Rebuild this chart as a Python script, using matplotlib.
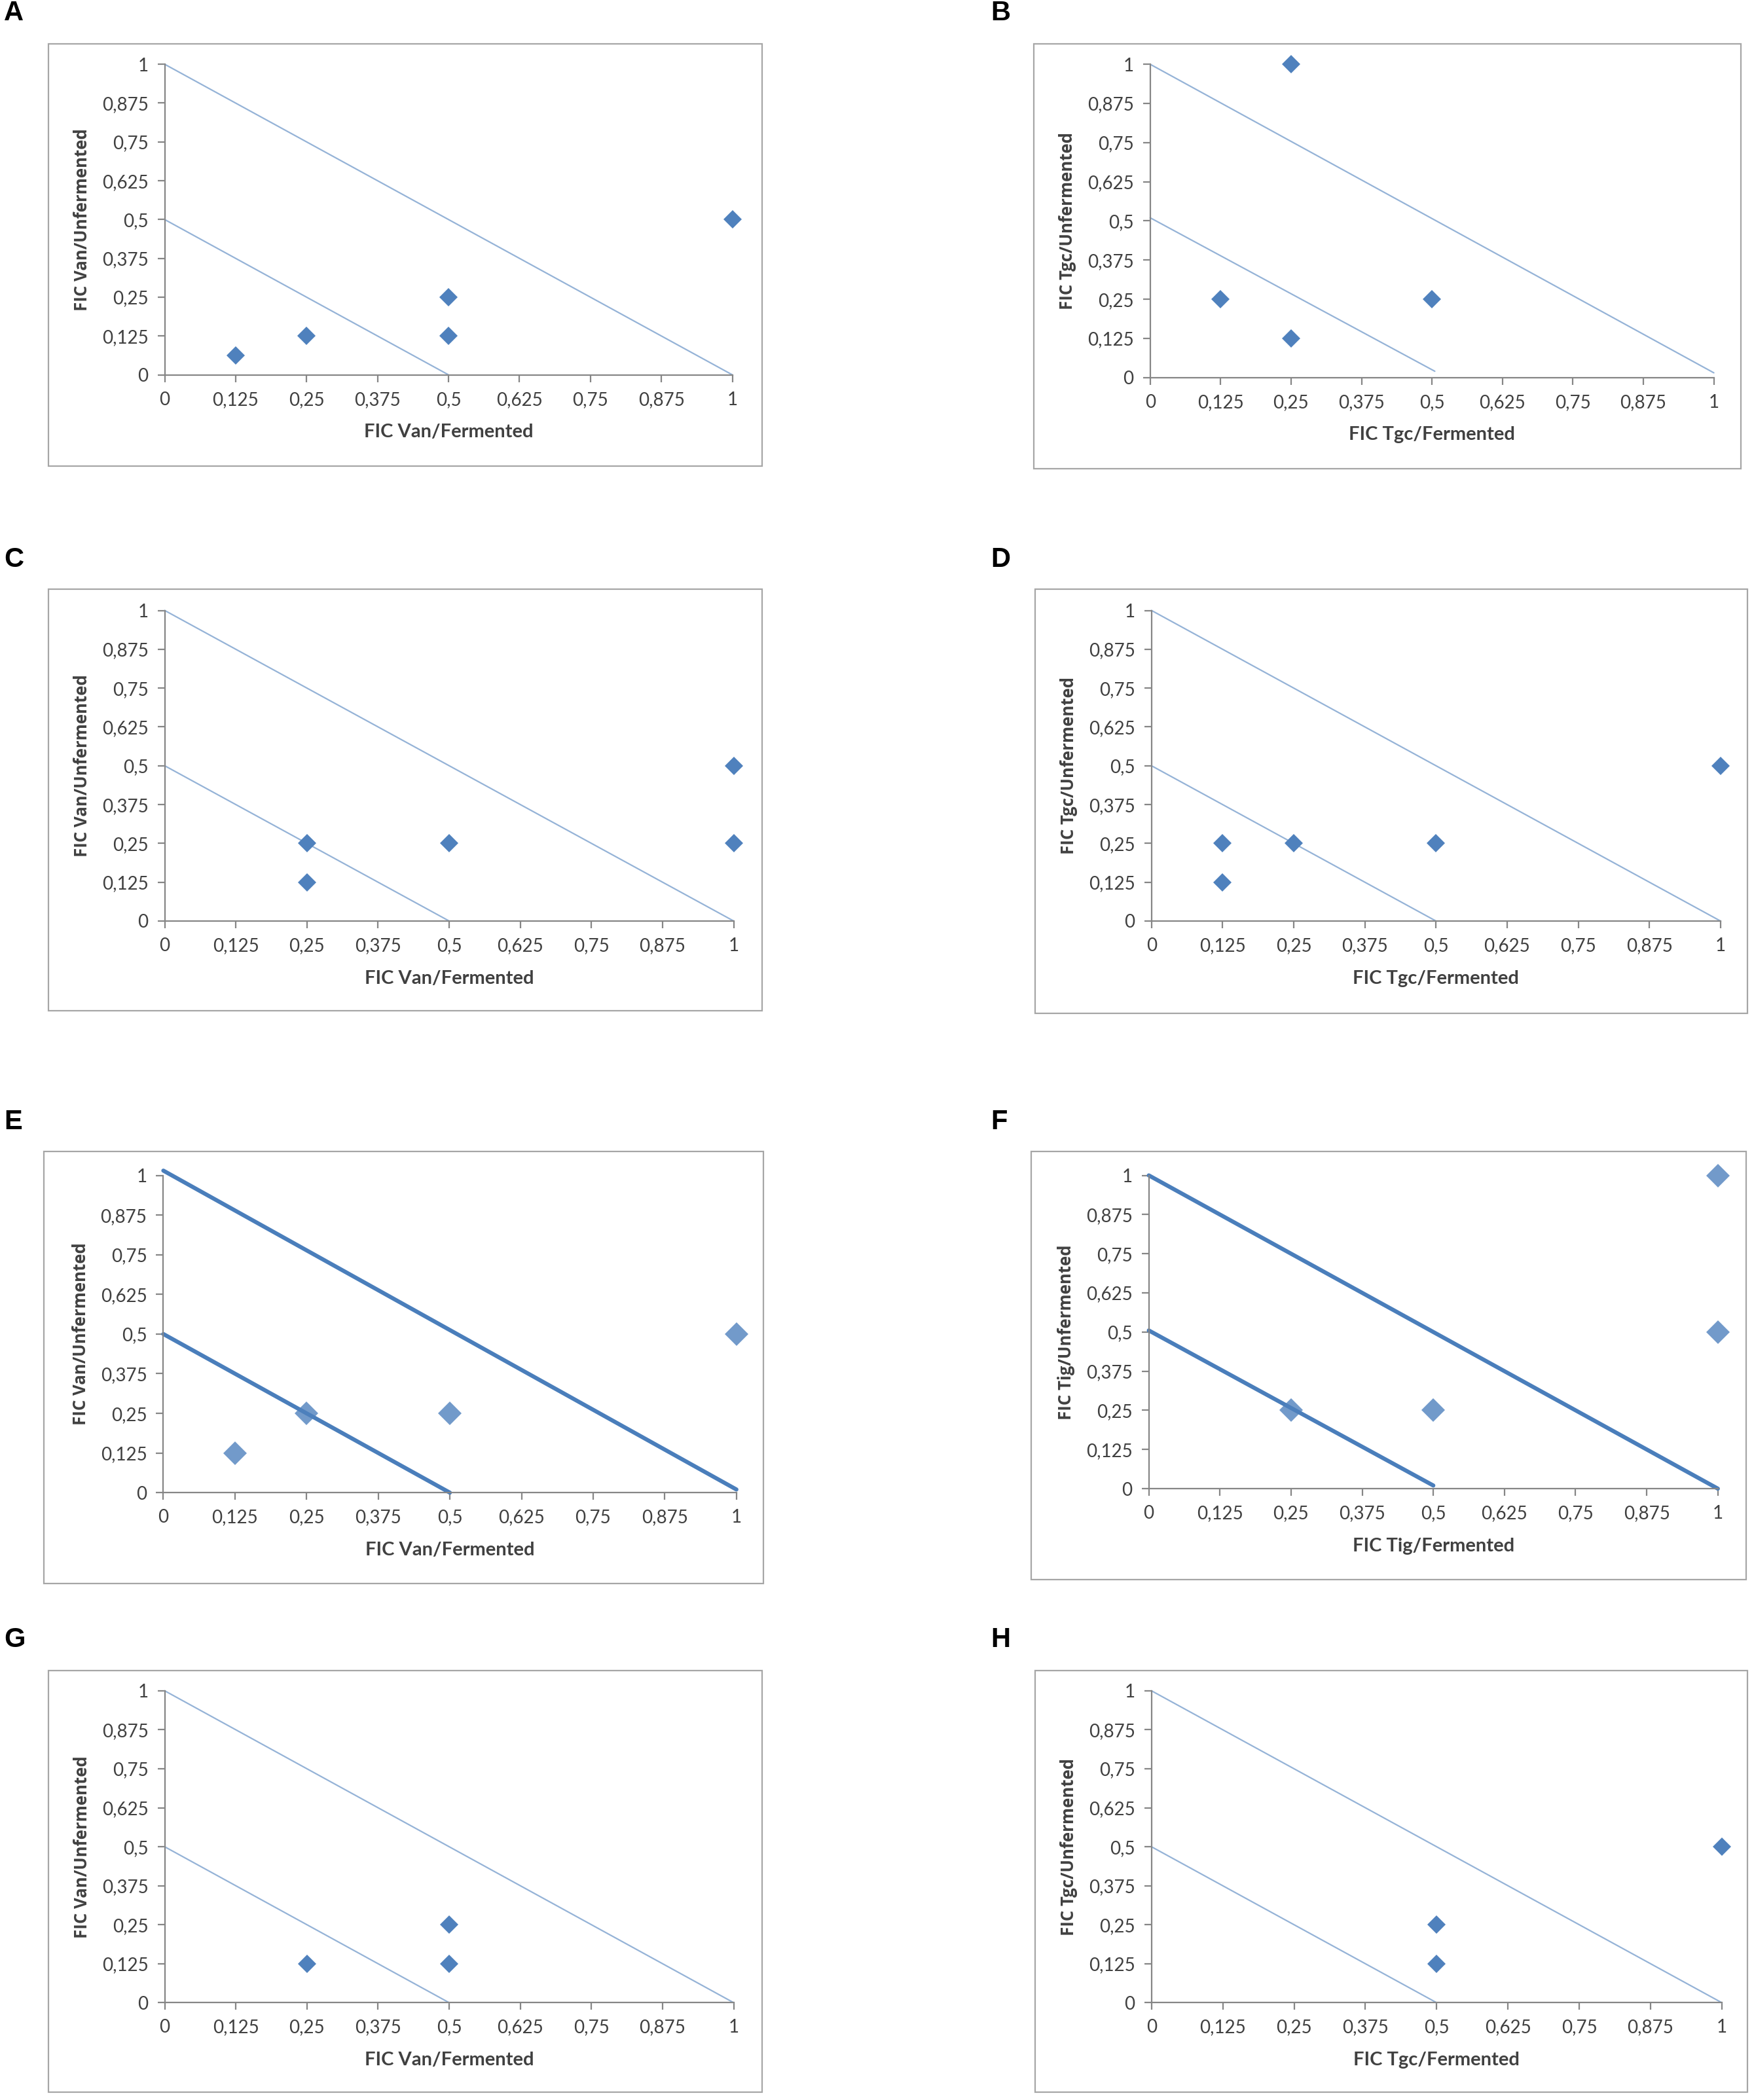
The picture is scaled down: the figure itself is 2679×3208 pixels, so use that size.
import matplotlib
matplotlib.use("Agg")
import matplotlib.pyplot as plt
from matplotlib.patches import Rectangle

# figure size in pixels, layout was measured on a 1310 px wide preview
W, H = 2679, 3208
S = W / 1310.0

panels = ["A", "B", "C", "D", "E", "F", "G", "H"]

x_titles = ["FIC Van/Fermented", "FIC Tgc/Fermented", "FIC Van/Fermented", "FIC Tgc/Fermented",
            "FIC Van/Fermented", "FIC Tig/Fermented", "FIC Van/Fermented", "FIC Tgc/Fermented"]
y_titles = ["FIC Van/Unfermented", "FIC Tgc/Unfermented", "FIC Van/Unfermented", "FIC Tgc/Unfermented",
            "FIC Van/Unfermented", "FIC Tig/Unfermented", "FIC Van/Unfermented", "FIC Tgc/Unfermented"]

# combination points (x = fermented FIC, y = unfermented FIC)
pts_x = {
    "A": [0.125, 0.25, 0.5, 0.5, 1.0],
    "B": [0.25, 0.125, 0.25, 0.5],
    "C": [0.25, 0.25, 0.5, 1.0, 1.0],
    "D": [0.125, 0.125, 0.25, 0.5, 1.0],
    "E": [0.125, 0.25, 0.5, 1.0],
    "F": [0.25, 0.5, 1.0, 1.0],
    "G": [0.25, 0.5, 0.5],
    "H": [0.5, 0.5, 1.0],
}
pts_y = {
    "A": [0.0625, 0.125, 0.25, 0.125, 0.5],
    "B": [1.0, 0.25, 0.125, 0.25],
    "C": [0.25, 0.125, 0.25, 0.5, 0.25],
    "D": [0.25, 0.125, 0.25, 0.25, 0.5],
    "E": [0.125, 0.25, 0.25, 0.5],
    "F": [0.25, 0.25, 1.0, 0.5],
    "G": [0.125, 0.25, 0.125],
    "H": [0.25, 0.125, 0.5],
}

# isobologram lines: additivity (FIC index 1) and synergy (FIC index 0.5)
outer_x = {p: [0, 1] for p in panels}
outer_y = {p: [1, 0] for p in panels}
outer_y["B"] = [1, 0.015]
outer_y["E"] = [1.015, 0.01]
inner_x = {p: [0, 0.5] for p in panels}
inner_x["B"] = [0, 0.505]
inner_y = {p: [0.5, 0] for p in panels}
inner_y["B"] = [0.51, 0.02]
inner_y["F"] = [0.505, 0.01]

ticks = [0, 0.125, 0.25, 0.375, 0.5, 0.625, 0.75, 0.875, 1]
tick_labels = ["0", "0,125", "0,25", "0,375", "0,5", "0,625", "0,75", "0,875", "1"]

# layout in preview pixels: frame (l, t, r, b), axes (x0, x1, ytop, ybottom), letter (x, y)
frames = {
    "A": (36, 33, 569, 348), "B": (772, 33, 1300, 350),
    "C": (36, 440, 569, 755), "D": (773, 440, 1305, 757),
    "E": (33, 860, 570, 1183), "F": (770, 860, 1304, 1180),
    "G": (36, 1248, 569, 1563), "H": (773, 1248, 1305, 1563),
}
axes_box = {
    "A": (123, 547, 48, 280), "B": (859, 1280, 48, 282),
    "C": (123, 548, 456, 688), "D": (860, 1285, 456, 688),
    "E": (122, 550, 878, 1115), "F": (858, 1283, 878, 1112),
    "G": (123, 548, 1263, 1496), "H": (860, 1286, 1263, 1496),
}
letters = {
    "A": (3, 10), "B": (740, 10), "C": (3, 418), "D": (740, 418),
    "E": (3, 838), "F": (740, 838), "G": (3, 1225), "H": (740, 1225),
}

narrow = ["Lato", "DejaVu Sans"]
bold_fam = ["Open Sans", "DejaVu Sans"]

fig = plt.figure(figsize=(W / 100, H / 100), dpi=100)
fig.patch.set_facecolor("white")

for p in panels:
    l, t, r, b = frames[p]
    fig.patches.append(Rectangle((l * S / W, 1 - b * S / H), (r - l) * S / W, (b - t) * S / H,
                                 transform=fig.transFigure, fill=False,
                                 edgecolor="#a6a6a6", linewidth=1.6))
    lx, ly = letters[p]
    fig.text(lx * S / W, 1 - ly * S / H, p, fontsize=30, fontweight="bold",
             family="Liberation Sans", ha="left", va="center")

    x0, x1, yt, yb = axes_box[p]
    ax = fig.add_axes([x0 * S / W, 1 - yb * S / H, (x1 - x0) * S / W, (yb - yt) * S / H])
    heavy = p in ("E", "F")
    lcol = "#4a7ebb" if heavy else "#95b3d7"
    lw = 4.5 if heavy else 1.6
    ax.plot(outer_x[p], outer_y[p], color=lcol, lw=lw, solid_capstyle="round", clip_on=False)
    ax.plot(inner_x[p], inner_y[p], color=lcol, lw=lw, solid_capstyle="round", clip_on=False)
    ax.plot(pts_x[p], pts_y[p], linestyle="none", marker="D", color="#4f81bd",
            markersize=18 if heavy else 14, markeredgewidth=0, clip_on=False, zorder=3,
            alpha=0.8 if heavy else 1)

    ax.set_xlim(0, 1)
    ax.set_ylim(0, 1)
    ax.set_xticks(ticks)
    ax.set_yticks(ticks)
    ax.set_xticklabels(tick_labels, family=narrow, fontsize=20, color="#404040")
    ax.set_yticklabels(tick_labels, family=narrow, fontsize=20, color="#404040")
    ax.tick_params(direction="out", length=8, width=1.6, color="#868686", pad=10)
    for side in ("top", "right"):
        ax.spines[side].set_visible(False)
    for side in ("left", "bottom"):
        ax.spines[side].set_color("#868686")
        ax.spines[side].set_linewidth(1.6)
    i = panels.index(p)
    ax.set_xlabel(x_titles[i], family=narrow, fontsize=21,
                  fontweight="bold", color="#404040", labelpad=17)
    ax.set_ylabel(y_titles[i], family=bold_fam, fontsize=18.5,
                  fontweight="bold", color="#404040", labelpad=12)
    ax.patch.set_alpha(0)

fig.savefig("out.png", dpi=100)
